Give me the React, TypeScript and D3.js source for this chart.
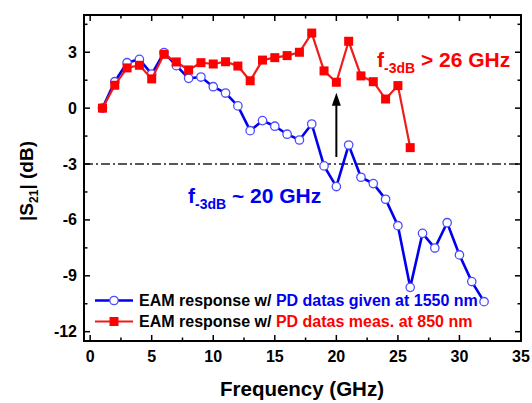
import React from "react";
import * as d3 from "d3";

const freqPD1550 = d3.range(1, 33);
const s21PD1550 = [
  0, 1.42, 2.44, 2.62, 1.83, 2.98, 2.28, 1.6, 1.67, 1.15, 0.81, 0.12, -1.21, -0.67, -0.97, -1.4,
  -1.71, -0.85, -3.1, -4.21, -1.98, -3.71, -4.05, -4.89, -6.31, -9.62, -6.72, -7.51, -6.15, -7.88,
  -9.31, -10.39,
];
const freqPD850 = d3.range(1, 27);
const s21PD850 = [
  0, 1.23, 2.16, 2.3, 1.57, 2.89, 2.48, 2.05, 2.44, 2.37, 2.49, 2.26, 1.47, 2.58, 2.71, 2.82, 3.0,
  4.03, 2.0, 1.39, 3.59, 1.73, 1.42, 0.49, 1.21, -2.12,
];
const xTicks = [0, 5, 10, 15, 20, 25, 30, 35];
const yTicks = [3, 0, -3, -6, -9, -12];

const W = 532;
const H = 403;
const M = { left: 84, right: 521, top: 15, bottom: 341 };
const FONT = "Arial, 'Liberation Sans', sans-serif";

export default function App() {
  const x = d3.scaleLinear().domain([-0.5, 35]).range([M.left, M.right]);
  const y = d3.scaleLinear().domain([-12.5, 5]).range([M.bottom, M.top]);

  const blue = freqPD1550.map((f, i) => [f, s21PD1550[i]] as [number, number]);
  const red = freqPD850.map((f, i) => [f, s21PD850[i]] as [number, number]);
  const line = d3
    .line<[number, number]>()
    .x((d) => x(d[0]))
    .y((d) => y(d[1]));

  const xMinor = d3.range(0, 35.01, 2.5);
  const yMinor = d3.range(-12, 4.6, 1.5);

  return (
    <svg
      width={W}
      height={H}
      style={{ position: "absolute", left: 0, top: 0, background: "#fff" }}
      fontFamily={FONT}
    >
      <defs>
        <clipPath id="plot">
          <rect x={M.left} y={M.top} width={M.right - M.left} height={M.bottom - M.top} />
        </clipPath>
      </defs>

      {/* -3 dB reference */}
      <line
        x1={M.left}
        x2={M.right}
        y1={y(-3)}
        y2={y(-3)}
        stroke="#222"
        strokeWidth={1.5}
        strokeDasharray="9 3 2 3"
      />

      {/* ticks, mirrored and inward */}
      {xMinor.map((t) => {
        const major = t % 5 === 0;
        const len = major ? 6 : 3.5;
        return (
          <g key={"x" + t} stroke="#000" strokeWidth={1.5}>
            <line x1={x(t)} x2={x(t)} y1={M.bottom} y2={M.bottom - len} />
            <line x1={x(t)} x2={x(t)} y1={M.top} y2={M.top + len} />
          </g>
        );
      })}
      {yMinor.map((t) => {
        const major = Math.abs(t % 3) < 1e-6;
        const len = major ? 6 : 3.5;
        return (
          <g key={"y" + t} stroke="#000" strokeWidth={1.5}>
            <line x1={M.left} x2={M.left + len} y1={y(t)} y2={y(t)} />
            <line x1={M.right} x2={M.right - len} y1={y(t)} y2={y(t)} />
          </g>
        );
      })}

      {/* series */}
      <g clipPath="url(#plot)">
        <path d={line(blue) || ""} fill="none" stroke="#0000ee" strokeWidth={2.6} />
        {blue.map((d, i) => (
          <circle
            key={"b" + i}
            cx={x(d[0])}
            cy={y(d[1])}
            r={4.2}
            fill="#fff"
            stroke="#4d4dff"
            strokeWidth={1.3}
          />
        ))}
        <path d={line(red) || ""} fill="none" stroke="#ee1c1c" strokeWidth={2.2} />
        {red.map((d, i) => (
          <rect
            key={"r" + i}
            x={x(d[0]) - 4.5}
            y={y(d[1]) - 4.5}
            width={9}
            height={9}
            fill="#f00"
          />
        ))}
      </g>

      {/* frame */}
      <rect
        x={M.left}
        y={M.top}
        width={M.right - M.left}
        height={M.bottom - M.top}
        fill="none"
        stroke="#000"
        strokeWidth={2}
      />

      {/* tick labels */}
      {xTicks.map((t) => (
        <text
          key={"xl" + t}
          x={x(t)}
          y={362}
          textAnchor="middle"
          fontSize={16}
          fontWeight="bold"
        >
          {t}
        </text>
      ))}
      {yTicks.map((t) => (
        <text
          key={"yl" + t}
          x={77}
          y={y(t) + 5.5}
          textAnchor="end"
          fontSize={16}
          fontWeight="bold"
        >
          {t}
        </text>
      ))}

      {/* axis titles */}
      <text x={302} y={396} textAnchor="middle" fontSize={20.5} fontWeight="bold">
        Frequency (GHz)
      </text>
      <text
        transform="translate(33,181) rotate(-90)"
        textAnchor="middle"
        fontSize={19}
        fontWeight="bold"
      >
        |S<tspan fontSize={12} dy={5}>21</tspan>
        <tspan dy={-5}>| (dB)</tspan>
      </text>

      {/* arrow */}
      <line x1={x(20)} x2={x(20)} y1={y(-2.62)} y2={y(0.4)} stroke="#000" strokeWidth={2} />
      <path
        d={`M${x(20)},${y(0.83)} L${x(20) - 4.5},${y(0.83) + 13} L${x(20) + 4.5},${y(0.83) + 13} Z`}
        fill="#000"
      />

      {/* annotations */}
      <text x={377} y={67} fill="#f00" fontSize={21} fontWeight="bold">
        f<tspan fontSize={14} dy={6}>-3dB</tspan>
        <tspan dy={-6}> &gt; 26 GHz</tspan>
      </text>
      <text x={188} y={203} fill="#0000ee" fontSize={21} fontWeight="bold">
        f<tspan fontSize={14} dy={6}>-3dB</tspan>
        <tspan dy={-6}> ~ 20 GHz</tspan>
      </text>

      {/* legend */}
      <g>
        <line x1={95} x2={133} y1={300.5} y2={300.5} stroke="#0000ee" strokeWidth={2.6} />
        <circle cx={114} cy={300.5} r={4.2} fill="#fff" stroke="#4d4dff" strokeWidth={1.3} />
        <text x={139} y={306} fontSize={16} fontWeight="bold">
          EAM response w/ <tspan fill="#0000ee">PD datas given at 1550 nm</tspan>
        </text>
        <line x1={95} x2={133} y1={321.5} y2={321.5} stroke="#ee1c1c" strokeWidth={2.2} />
        <rect x={109.5} y={317} width={9} height={9} fill="#f00" />
        <text x={139} y={327} fontSize={16} fontWeight="bold">
          EAM response w/ <tspan fill="#f00">PD datas meas. at 850 nm</tspan>
        </text>
      </g>
    </svg>
  );
}
